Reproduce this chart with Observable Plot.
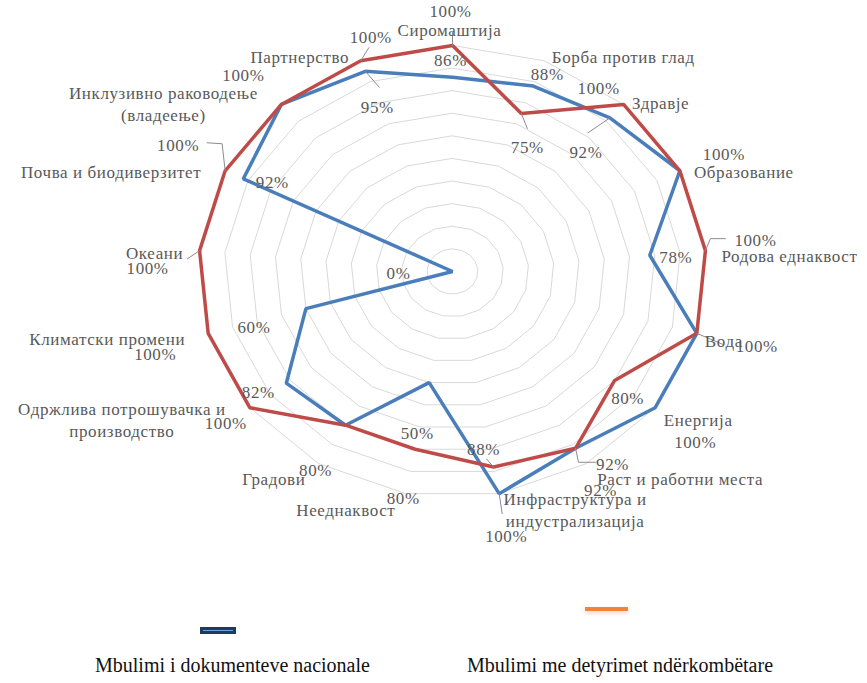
<!DOCTYPE html>
<html>
<head>
<meta charset="utf-8">
<script src="https://cdn.jsdelivr.net/npm/d3@7"></script>
<script src="https://cdn.jsdelivr.net/npm/@observablehq/plot@0.6"></script>
<style>
  html, body { margin: 0; padding: 0; background: #fff; }
  #wrap { position: relative; width: 867px; height: 683px; }
  #legend { position: relative; width: 867px; height: 93px; font-family: 'Liberation Serif', 'DejaVu Serif', serif; }
  .sym-blue { position: absolute; left: 200px; top: 37px; width: 36px; height: 7px; background: #1f3a5c; }
  .sym-blue::after { content: ""; position: absolute; left: 3px; right: 3px; top: 3px; height: 1px; background: #6fa3dc; }
  .sym-orange { position: absolute; left: 585px; top: 17px; width: 43px; height: 4px; background: #f28434; box-shadow: 0 2px 4px rgba(240,110,90,0.35); }
  .leg-text { position: absolute; top: 63px; font-size: 20px; color: #111; white-space: nowrap; line-height: 24px; }
</style>
</head>
<body>
<div id="wrap">
  <div id="chart"></div>
  <div id="legend">
    <div class="sym-blue"></div>
    <div class="sym-orange"></div>
    <div class="leg-text" id="leg1" style="left:95px"></div>
    <div class="leg-text" id="leg2" style="left:467px"></div>
  </div>
</div>
<script>
// ---------- data ----------
const categories = [
  "Сиромаштија", "Борба против глад", "Здравје", "Образование", "Родова еднаквост",
  "Вода", "Енергија", "Раст и работни места", "Инфраструктура и\nиндустрализација",
  "Нееднаквост", "Градови", "Одржлива потрошувачка и\nпроизводство", "Климатски промени",
  "Океани", "Почва и биодиверзитет", "Инклузивно раководење\n(владеење)", "Партнерство"
];
const nationalValues      = [86, 88, 92, 100, 78, 100, 100, 92, 100, 50, 80, 82, 60, 0, 92, 100, 95];
const internationalValues = [100, 75, 100, 100, 100, 100, 80, 92, 88, 80, 80, 100, 100, 100, 100, 100, 100];
const gridLevels = [10, 20, 30, 40, 50, 60, 70, 80, 90, 100];
const seriesNames = ["Mbulimi i dokumenteve nacionale", "Mbulimi me detyrimet ndërkombëtare"];

// ---------- layout (label nudges in px, relative to anchor points) ----------
const catNudge = [[-3,-17],[79,-5],[37,-3],[64,0],[84,4],[27,7],[43,11],[94,14],[76,15],
  [-60,15],[-45,14],[-128,11],[-101,5],[-45,1],[-114,0],[-118,-2],[-61,-5]];
const intlNudge = [[-2,-34],[6,34],[-25,-16],[44,-16],[50,-10],[60,13],[13,18],[37,16],[-10,-17],
  [-12,49],[-30,45],[-24,16],[-53,21],[-52,18],[-47,-25],[-38,-29],[10,-23]];
const natNudge = [[-2,-17],[14,-12],[-24,35],null,[26,2],null,[40,35],[25,42],[7,43],
  [-12,51],null,[-28,9],[-52,19],[-54,2],[29,4],null,[12,36]];
const leaders = [
  ["intl", 0, [[0,0],[0,-13]]],
  ["intl", 1, [[0,0],[6,15]]],
  ["nat", 2, [[0,0],[-22,15]]],
  ["intl", 4, [[0,0],[5,-12],[20,-12]]],
  ["intl", 5, [[0,0],[26,11]]],
  ["intl", 7, [[0,0],[3,14],[20,14]]],
  ["nat", 8, [[0,0],[3,20]]],
  ["intl", 8, [[0,0],[-7,-8]]],
  ["intl", 13, [[0,0],[-12,8]]],
  ["intl", 14, [[0,0],[-3,-27],[-18,-28]]],
  ["intl", 16, [[0,0],[8,-13]]],
  ["nat", 16, [[0,0],[14,16]]]
];

// ---------- geometry ----------
const W = 867, H = 590, CX = 452, CY = 271, RX = 254, RY = 226;
const n = categories.length;
const ang = i => i * 2 * Math.PI / n;
const pt = (i, v) => [v / 100 * Math.sin(ang(i)), v / 100 * Math.cos(ang(i))];
const nudge = (p, d) => [p[0] + d[0] / RX, p[1] - d[1] / RY];

const gridData = gridLevels.flatMap(l => categories.map((c, i) => {
  const p = pt(i, l); return {level: l, x: p[0], y: p[1]};
}));
const natData = categories.map((c, i) => { const p = pt(i, nationalValues[i]); return {x: p[0], y: p[1]}; });
const intlData = categories.map((c, i) => { const p = pt(i, internationalValues[i]); return {x: p[0], y: p[1]}; });

const catLabels = categories.map((c, i) => {
  const p = nudge(pt(i, 100), catNudge[i]); return {text: c, x: p[0], y: p[1]};
});
const valueLabels = [];
categories.forEach((c, i) => {
  const pi = nudge(pt(i, internationalValues[i]), intlNudge[i]);
  valueLabels.push({text: internationalValues[i] + "%", x: pi[0], y: pi[1]});
  if (natNudge[i]) {
    const pn = nudge(pt(i, nationalValues[i]), natNudge[i]);
    valueLabels.push({text: nationalValues[i] + "%", x: pn[0], y: pn[1]});
  }
});
const leaderData = leaders.flatMap(([s, i, pts], k) => {
  const v = s === "nat" ? nationalValues[i] : internationalValues[i];
  const base = pt(i, v);
  return pts.map(d => { const p = nudge(base, d); return {id: k, x: p[0], y: p[1]}; });
});

const font = "'Liberation Serif', 'DejaVu Serif', serif";
const chart = Plot.plot({
  width: W, height: H,
  marginTop: 0, marginRight: 0, marginBottom: 0, marginLeft: 0,
  x: {domain: [-CX / RX, (W - CX) / RX], range: [0, W], axis: null},
  y: {domain: [(CY - H) / RY, CY / RY], range: [H, 0], axis: null},
  style: {fontFamily: font, background: "#fff"},
  marks: [
    Plot.line(gridData, {x: "x", y: "y", z: "level", curve: "linear-closed", stroke: "#d9d9d9", strokeWidth: 1}),
    Plot.line(natData, {x: "x", y: "y", curve: "linear-closed", stroke: "#4a7ebb", strokeWidth: 3.5, strokeLinejoin: "miter"}),
    Plot.line(intlData, {x: "x", y: "y", curve: "linear-closed", stroke: "#be4b48", strokeWidth: 3.5, strokeLinejoin: "miter"}),
    Plot.line(leaderData, {x: "x", y: "y", z: "id", stroke: "#8c8c8c", strokeWidth: 1}),
    Plot.text(catLabels, {x: "x", y: "y", text: "text", fill: "#595959", fontSize: 17, lineHeight: 1.3, fontFamily: font}),
    Plot.text(valueLabels, {x: "x", y: "y", text: "text", fill: "#595959", fontSize: 17, fontFamily: font})
  ]
});
chart.querySelectorAll("text").forEach(t => t.setAttribute("letter-spacing", "0.6"));
document.getElementById("chart").appendChild(chart);
document.getElementById("leg1").textContent = seriesNames[0];
document.getElementById("leg2").textContent = seriesNames[1];
</script>
</body>
</html>
